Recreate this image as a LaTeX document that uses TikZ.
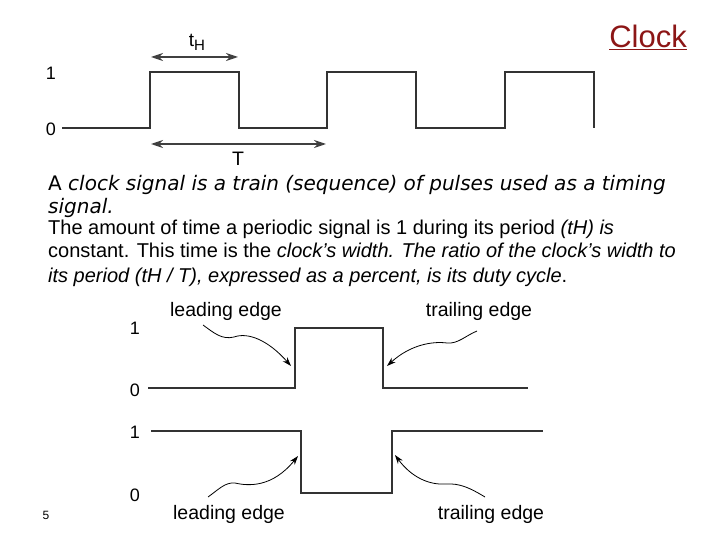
\documentclass[tikz,border=0pt]{standalone}
\usepackage{fontspec}
\setmainfont{Liberation Sans}
\newfontfamily\verdfont{DejaVu Sans}
\usetikzlibrary{arrows.meta}
\definecolor{titlered}{RGB}{140,22,22}

\begin{document}
\begin{tikzpicture}[
  x=1pt, y=-1pt,
  wave/.style={line width=1.6pt, draw=black!80},
  dim/.style={{Stealth[length=12pt,width=8pt]}-{Stealth[length=12pt,width=8pt]}, line width=1.3pt, draw=black!75},
  pointer/.style={-{Stealth[length=9pt,width=6pt]}, line width=0.8pt},
  level/.style={font=\fontsize{18}{18}\selectfont, inner sep=0pt},
  tag/.style={font=\fontsize{19.5}{19.5}\selectfont, inner sep=0pt},
  body/.style={font=\fontsize{20}{24}\selectfont, anchor=base west, inner sep=0pt},
  verd/.style={font=\verdfont\fontsize{20}{24}\selectfont, anchor=base west, inner sep=0pt}
]
  \useasboundingbox (0,0) rectangle (720,540);

  % title
  \node (title) [text=titlered, font=\fontsize{31}{31}\selectfont, inner sep=0pt] at (648,37) {\underline{Clock}};

  % clock train
  \node (one) [level] at (51,73) {1};
  \node (zero) [level] at (51,129) {0};
  \draw [wave] (62,128) -- (150,128) -- (150,72) -- (239,72) -- (239,128)
    -- (327,128) -- (327,72) -- (416,72) -- (416,128)
    -- (505,128) -- (505,72) -- (594,72) -- (594,128);

  \coordinate (tH-a) at (151,57);
  \coordinate (tH-b) at (238,57);
  \coordinate (T-a) at (151,144);
  \coordinate (T-b) at (326,144);
  \draw [dim] (tH-a) -- (tH-b);
  \draw [dim] (T-a) -- (T-b);
  \node (tH) [font=\fontsize{19}{19}\selectfont, inner sep=0pt] at (197,42) {t\raisebox{-4pt}{\fontsize{15}{15}\selectfont H}};
  \node (T) [tag] at (238,159) {T};

  % text
  \node (p1a) [verd] at (48,191) {A \textit{clock signal is a train (sequence) of pulses used as a timing}};
  \node (p1b) [verd] at (48,214) {\textit{signal.}};
  \node (p2a) [body] at (48,234) {The amount of time a periodic signal is 1 during its period \textit{(tH) is}};
  \node (p2b) [body] at (48,258) {constant. This time is the \textit{clock’s width. The ratio of the clock’s width to}};
  \node (p2c) [body] at (48,282) {\textit{its period (tH / T), expressed as a percent, is its duty cycle}.};

  % rising pulse
  \node (one-m) [level] at (135,328) {1};
  \node (zero-m) [level] at (135,390) {0};
  \draw [wave] (148,388) -- (295,388) -- (295,328) -- (383,328) -- (383,388) -- (528,388);
  \node (lead-m) [tag] at (226,311) {leading edge};
  \node (trail-m) [tag] at (479,311) {trailing edge};
  \coordinate (lm-s) at (203,325);
  \coordinate (lm-t) at (291,366);
  \coordinate (tm-s) at (477,331);
  \coordinate (tm-t) at (387,366);
  \draw [pointer] (lm-s) .. controls (214,333) and (222,340) .. (234,337) .. controls (248,332) and (268,340) .. (lm-t);
  \draw [pointer] (tm-s) .. controls (465,336) and (458,344) .. (447,343) .. controls (432,341) and (410,345) .. (tm-t);

  % falling pulse
  \node (one-l) [level] at (135,432) {1};
  \node (zero-l) [level] at (135,495) {0};
  \draw [wave] (151,431) -- (301,431) -- (301,493) -- (392,493) -- (392,431) -- (543,431);
  \node (lead-l) [tag] at (229,514) {leading edge};
  \node (trail-l) [tag] at (491,514) {trailing edge};
  \coordinate (ll-s) at (208,497);
  \coordinate (ll-t) at (298,456);
  \coordinate (tl-s) at (485,497);
  \coordinate (tl-t) at (395,455);
  \draw [pointer] (ll-s) .. controls (218,490) and (225,482) .. (235,483) .. controls (248,486) and (272,488) .. (ll-t);
  \draw [pointer] (tl-s) .. controls (470,488) and (460,483) .. (445,484) .. controls (430,485) and (412,478) .. (tl-t);

  \node (page) [font=\fontsize{12}{12}\selectfont, inner sep=0pt] at (46,515) {5};
\end{tikzpicture}
\end{document}
